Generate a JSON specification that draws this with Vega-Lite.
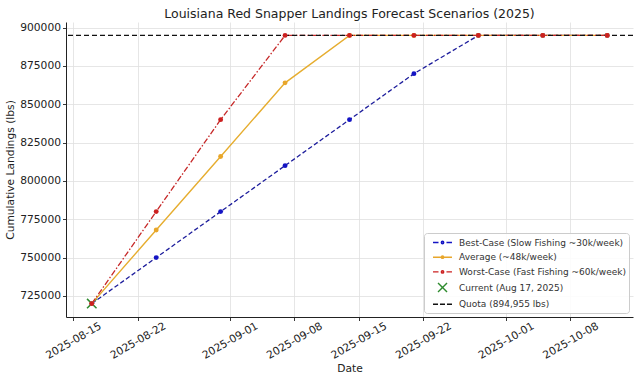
{
  "$schema": "https://vega.github.io/schema/vega-lite/v6.json",
  "width": 567,
  "height": 295,
  "autosize": {"type": "none"},
  "padding": {"left": 66, "top": 22, "right": 7, "bottom": 65},
  "background": "white",
  "title": {"text": "Louisiana Red Snapper Landings Forecast Scenarios (2025)", "font": "DejaVu Sans", "fontSize": 12.5, "fontWeight": "normal", "color": "#222222", "anchor": "middle", "baseline": "alphabetic", "offset": 4, "dy": 13},
  "config": {
    "view": {"stroke": null},
    "font": "DejaVu Sans",
    "axis": {"labelFont": "DejaVu Sans", "labelFontSize": 10.7, "labelColor": "#222222", "titleFont": "DejaVu Sans", "titleFontSize": 10.7, "titleFontWeight": "normal", "titleColor": "#222222", "domainColor": "#222222", "domainWidth": 1, "tickColor": "#222222", "tickSize": 3.5, "tickWidth": 0.9, "gridColor": "#e0e0e0", "gridWidth": 0.8, "grid": true},
    "axisX": {"labelAngle": -30, "labelAlign": "center", "labelBaseline": "middle", "labelPadding": 20, "titlePadding": 3, "labelOverlap": false, "labelBound": false, "labelFlush": false},
    "axisY": {"labelPadding": 2, "titlePadding": 4}
  },
  "datasets": {
    "scen": [
      {"date": "2025-08-17", "value": 720000, "scenario": "best"},
      {"date": "2025-08-24", "value": 750000, "scenario": "best"},
      {"date": "2025-08-31", "value": 780000, "scenario": "best"},
      {"date": "2025-09-07", "value": 810000, "scenario": "best"},
      {"date": "2025-09-14", "value": 840000, "scenario": "best"},
      {"date": "2025-09-21", "value": 870000, "scenario": "best"},
      {"date": "2025-09-28", "value": 894955, "scenario": "best"},
      {"date": "2025-10-05", "value": 894955, "scenario": "best"},
      {"date": "2025-10-12", "value": 894955, "scenario": "best"},
      {"date": "2025-08-17", "value": 720000, "scenario": "avg"},
      {"date": "2025-08-24", "value": 768000, "scenario": "avg"},
      {"date": "2025-08-31", "value": 816000, "scenario": "avg"},
      {"date": "2025-09-07", "value": 864000, "scenario": "avg"},
      {"date": "2025-09-14", "value": 894955, "scenario": "avg"},
      {"date": "2025-09-21", "value": 894955, "scenario": "avg"},
      {"date": "2025-09-28", "value": 894955, "scenario": "avg"},
      {"date": "2025-10-05", "value": 894955, "scenario": "avg"},
      {"date": "2025-10-12", "value": 894955, "scenario": "avg"},
      {"date": "2025-08-17", "value": 720000, "scenario": "worst"},
      {"date": "2025-08-24", "value": 780000, "scenario": "worst"},
      {"date": "2025-08-31", "value": 840000, "scenario": "worst"},
      {"date": "2025-09-07", "value": 894955, "scenario": "worst"},
      {"date": "2025-09-14", "value": 894955, "scenario": "worst"},
      {"date": "2025-09-21", "value": 894955, "scenario": "worst"},
      {"date": "2025-09-28", "value": 894955, "scenario": "worst"},
      {"date": "2025-10-05", "value": 894955, "scenario": "worst"},
      {"date": "2025-10-12", "value": 894955, "scenario": "worst"}
    ],
    "current": [{"date": "2025-08-17", "value": 720000}],
    "quota": [{"value": 894955}]
  },
  "layer": [
    {
      "data": {"name": "current"},
      "mark": {"type": "point", "shape": "M-1,-1L1,1M-1,1L1,-1", "size": 90, "filled": false, "stroke": "#2e8b2e", "strokeWidth": 1.5, "opacity": 1},
      "encoding": {
        "x": {"field": "date", "type": "temporal", "title": "Date", "scale": {"type": "utc", "domain": [{"year": 2025, "month": 8, "date": 14, "hours": 4, "minutes": 48, "utc": true}, {"year": 2025, "month": 10, "date": 14, "hours": 19, "minutes": 12, "utc": true}], "nice": false}, "axis": {"values": [{"year": 2025, "month": 8, "date": 15, "utc": true}, {"year": 2025, "month": 8, "date": 22, "utc": true}, {"year": 2025, "month": 9, "date": 1, "utc": true}, {"year": 2025, "month": 9, "date": 8, "utc": true}, {"year": 2025, "month": 9, "date": 15, "utc": true}, {"year": 2025, "month": 9, "date": 22, "utc": true}, {"year": 2025, "month": 10, "date": 1, "utc": true}, {"year": 2025, "month": 10, "date": 8, "utc": true}], "labelExpr": "utcFormat(datum.value, '%Y-%m-%d')"}},
        "y": {"field": "value", "type": "quantitative", "title": "Cumulative Landings (lbs)", "scale": {"domain": [711252, 903703], "nice": false, "zero": false}, "axis": {"values": [725000, 750000, 775000, 800000, 825000, 850000, 875000, 900000], "format": "d"}}
      }
    },
    {
      "data": {"name": "scen"},
      "transform": [{"filter": "datum.scenario === 'best'"}],
      "mark": {"type": "line", "color": "#1d1d9c", "strokeWidth": 1.3, "strokeDash": [4.5, 2.5]},
      "encoding": {
        "x": {"field": "date", "type": "temporal", "title": "Date", "axis": {"labelExpr": "utcFormat(datum.value, '%Y-%m-%d')"}},
        "y": {"field": "value", "type": "quantitative", "title": "Cumulative Landings (lbs)"}
      }
    },
    {
      "data": {"name": "scen"},
      "transform": [{"filter": "datum.scenario === 'avg'"}],
      "mark": {"type": "line", "color": "#e6ad2f", "strokeWidth": 1.4},
      "encoding": {
        "x": {"field": "date", "type": "temporal", "title": "Date", "axis": {"labelExpr": "utcFormat(datum.value, '%Y-%m-%d')"}},
        "y": {"field": "value", "type": "quantitative", "title": "Cumulative Landings (lbs)"}
      }
    },
    {
      "data": {"name": "scen"},
      "transform": [{"filter": "datum.scenario === 'worst'"}],
      "mark": {"type": "line", "color": "#c62828", "strokeWidth": 1.3, "strokeDash": [6, 2, 1.5, 2]},
      "encoding": {
        "x": {"field": "date", "type": "temporal", "title": "Date", "axis": {"labelExpr": "utcFormat(datum.value, '%Y-%m-%d')"}},
        "y": {"field": "value", "type": "quantitative", "title": "Cumulative Landings (lbs)"}
      }
    },
    {
      "data": {"name": "quota"},
      "mark": {"type": "rule", "color": "#111111", "strokeWidth": 1.3, "strokeDash": [5, 3]},
      "encoding": {
        "y": {"field": "value", "type": "quantitative", "title": "Cumulative Landings (lbs)"}
      }
    },
    {
      "data": {"name": "scen"},
      "transform": [{"filter": "datum.scenario === 'best'"}],
      "mark": {"type": "point", "filled": true, "color": "#1414c4", "size": 24, "opacity": 1},
      "encoding": {
        "x": {"field": "date", "type": "temporal", "title": "Date", "axis": {"labelExpr": "utcFormat(datum.value, '%Y-%m-%d')"}},
        "y": {"field": "value", "type": "quantitative", "title": "Cumulative Landings (lbs)"}
      }
    },
    {
      "data": {"name": "scen"},
      "transform": [{"filter": "datum.scenario === 'avg'"}],
      "mark": {"type": "point", "filled": true, "color": "#e8a62a", "size": 24, "opacity": 1},
      "encoding": {
        "x": {"field": "date", "type": "temporal", "title": "Date", "axis": {"labelExpr": "utcFormat(datum.value, '%Y-%m-%d')"}},
        "y": {"field": "value", "type": "quantitative", "title": "Cumulative Landings (lbs)"}
      }
    },
    {
      "data": {"name": "scen"},
      "transform": [{"filter": "datum.scenario === 'worst'"}],
      "mark": {"type": "point", "filled": true, "color": "#cc2020", "size": 24, "opacity": 1},
      "encoding": {
        "x": {"field": "date", "type": "temporal", "title": "Date", "axis": {"labelExpr": "utcFormat(datum.value, '%Y-%m-%d')"}},
        "y": {"field": "value", "type": "quantitative", "title": "Cumulative Landings (lbs)"}
      }
    },
    {
      "data": {"name": "scen"},
      "transform": [{"filter": "false"}],
      "mark": {"type": "point", "filled": false, "opacity": 1, "strokeWidth": 1.4},
      "encoding": {
        "x": {"field": "date", "type": "temporal", "title": "Date", "axis": {"labelExpr": "utcFormat(datum.value, '%Y-%m-%d')"}},
        "y": {"field": "value", "type": "quantitative", "title": "Cumulative Landings (lbs)"},
        "color": {
          "field": "label", "type": "nominal",
          "scale": {"domain": ["Best-Case (Slow Fishing ~30k/week)", "Average (~48k/week)", "Worst-Case (Fast Fishing ~60k/week)", "Current (Aug 17, 2025)", "Quota (894,955 lbs)"], "range": ["#1414c4", "#e8a62a", "#cc2020", "#2e8b2e", "#111111"]},
          "legend": {"title": null, "orient": "bottom-right", "offset": 4, "labelFont": "DejaVu Sans", "labelFontSize": 9, "labelColor": "#333333", "labelLimit": 400, "labelOffset": 19, "symbolSize": 121, "symbolStrokeWidth": 1.4, "symbolFillColor": "transparent", "rowPadding": 2.7, "padding": 3, "strokeColor": "#cccccc", "fillColor": "rgba(255,255,255,0.85)", "cornerRadius": 3}
        },
        "shape": {
          "field": "label", "type": "nominal",
          "scale": {"domain": ["Best-Case (Slow Fishing ~30k/week)", "Average (~48k/week)", "Worst-Case (Fast Fishing ~60k/week)", "Current (Aug 17, 2025)", "Quota (894,955 lbs)"], "range": [
            "M-0.09,0H0.91M2.36,0H3.36M1.42,0A0.22,0.22,0,1,0,1.86,0A0.22,0.22,0,1,0,1.42,0ZM1.57,0A0.07,0.07,0,1,0,1.71,0A0.07,0.07,0,1,0,1.57,0Z",
            "M-0.09,0H3.36M1.42,0A0.22,0.22,0,1,0,1.86,0A0.22,0.22,0,1,0,1.42,0ZM1.57,0A0.07,0.07,0,1,0,1.71,0A0.07,0.07,0,1,0,1.57,0Z",
            "M-0.09,0H0.91M2.36,0H3.36M1.42,0A0.22,0.22,0,1,0,1.86,0A0.22,0.22,0,1,0,1.42,0ZM1.57,0A0.07,0.07,0,1,0,1.71,0A0.07,0.07,0,1,0,1.57,0Z",
            "M0.82,-0.82L2.46,0.82M0.82,0.82L2.46,-0.82",
            "M-0.09,0H0.82M1.18,0H2.09M2.45,0H3.36"
          ]},
          "legend": {"title": null, "orient": "bottom-right", "offset": 4, "labelFont": "DejaVu Sans", "labelFontSize": 9, "labelColor": "#333333", "labelLimit": 400, "labelOffset": 19, "symbolSize": 121, "symbolStrokeWidth": 1.4, "symbolFillColor": "transparent", "rowPadding": 2.7, "padding": 3, "strokeColor": "#cccccc", "fillColor": "rgba(255,255,255,0.85)", "cornerRadius": 3}
        }
      }
    }
  ]
}
